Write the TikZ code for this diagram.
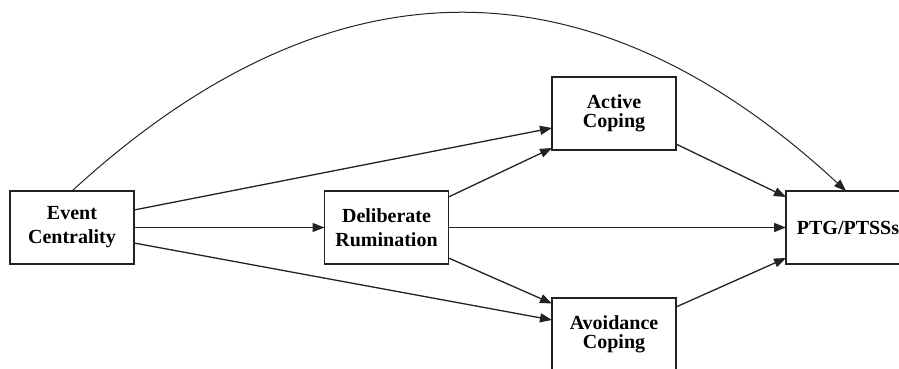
\documentclass[tikz,border=0pt]{standalone}
\usepackage{fontspec}
\setmainfont{Liberation Serif}
\usetikzlibrary{arrows.meta}
\definecolor{ink}{HTML}{222222}
\tikzset{
  boxnode/.style={draw=ink, line width=1.5pt, fill=white, minimum width=124pt, minimum height=73pt,
    inner sep=0pt, outer sep=0pt, align=center, font=\fontsize{20}{24}\selectfont\bfseries},
  tightbox/.style={boxnode, font=\fontsize{20}{19.5}\selectfont\bfseries},
  path arrow/.style={draw=ink, line width=1.3pt, -{Triangle[length=12pt,width=9pt]}},
  curve arrow/.style={draw=ink, line width=1pt, -{Triangle[length=12pt,width=9pt]}}
}
\begin{document}
\begin{tikzpicture}[x=1pt,y=-1pt]
\useasboundingbox (0,0) rectangle (899,369);
\clip (0,0) rectangle (899,369);
\node[boxnode] (ev) at (72,227.5) {Event\\Centrality};
\node[boxnode] (dr) at (386.5,227.5) {Deliberate\\Rumination};
\node[tightbox] (ac) at (614,113.5) {Active\\Coping};
\node[tightbox] (av) at (614,334.5) {Avoidance\\Coping};
\node[boxnode] (pt) at (848,227.5) {PTG/PTSSs};
% curved direct path
\draw[curve arrow] (ev.north) .. controls +(258,-237) and +(-256,-237) .. ([xshift=-2pt]pt.north);
% paths from Event Centrality
\draw[path arrow] ([yshift=17.5pt]ev.east) -- ([yshift=-14.5pt]ac.west);
\draw[path arrow] (ev.east) -- (dr.west);
\draw[path arrow] ([yshift=-15.5pt]ev.east) -- ([yshift=14.5pt]av.west);
% paths from Deliberate Rumination
\draw[path arrow] ([yshift=30.5pt]dr.east) -- ([yshift=-34.5pt]ac.west);
\draw[path arrow] (dr.east) -- (pt.west);
\draw[path arrow] ([yshift=-30.5pt]dr.east) -- ([yshift=31pt]av.west);
% paths to PTG/PTSSs
\draw[path arrow] ([yshift=-30.5pt]ac.east) -- ([yshift=30.5pt]pt.west);
\draw[path arrow] ([yshift=27.5pt]av.east) -- ([yshift=-30.5pt]pt.west);
\end{tikzpicture}
\end{document}
